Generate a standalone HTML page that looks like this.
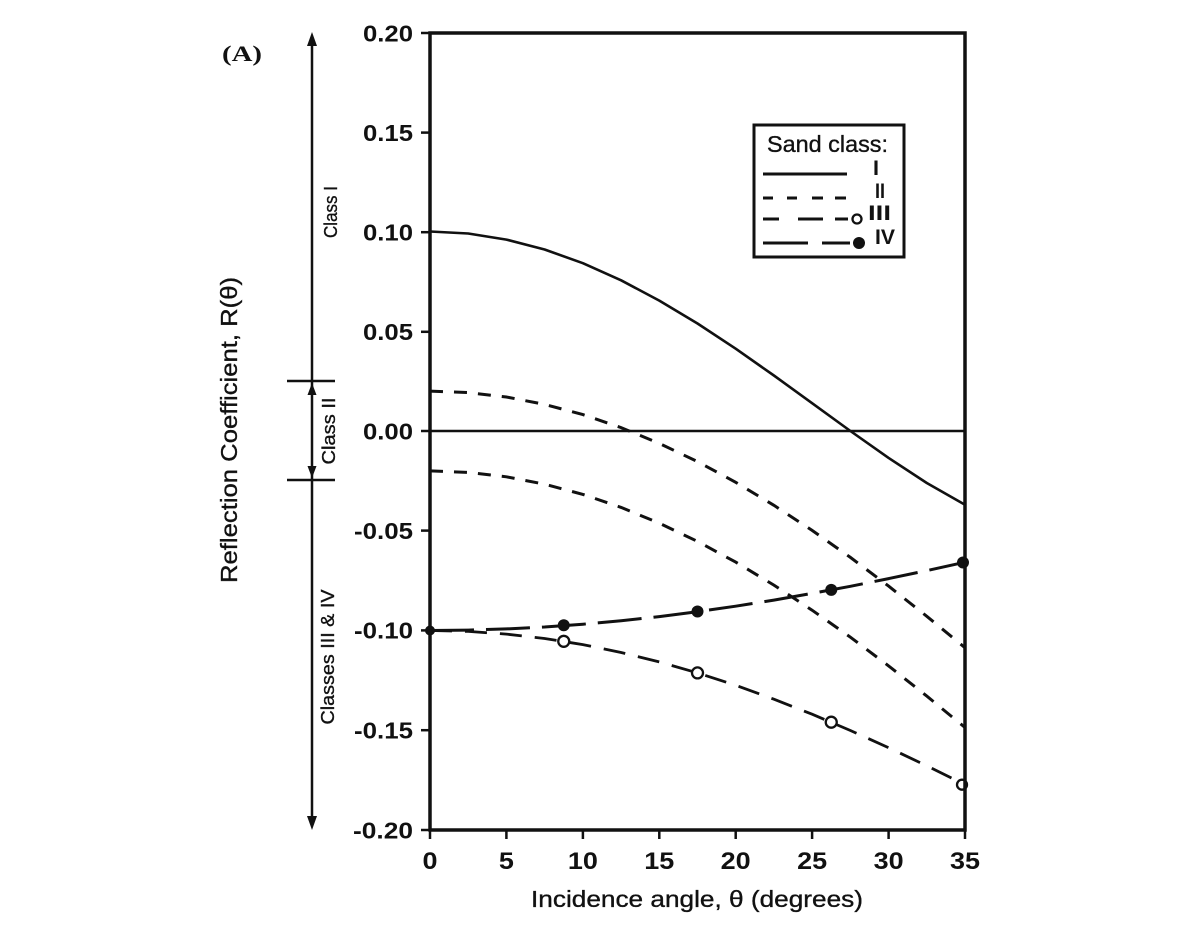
<!DOCTYPE html>
<html>
<head>
<meta charset="utf-8">
<style>
  html, body { margin: 0; padding: 0; background: #ffffff; }
  svg { display: block; }
  text { font-family: "Liberation Sans", Arial, sans-serif; fill: #111; }
  .reg { stroke: #111; stroke-width: 0.35; }
</style>
</head>
<body>
<svg width="1200" height="940" viewBox="0 0 1200 940" xmlns="http://www.w3.org/2000/svg">
  <rect x="0" y="0" width="1200" height="940" fill="#ffffff"/>

  <!-- (A) label -->
  <text x="222" y="61" font-weight="bold" font-size="22" textLength="40" lengthAdjust="spacingAndGlyphs" style="font-family:'Liberation Serif',serif">(A)</text>

  <!-- Class arrows -->
  <g stroke="#111" fill="#111">
    <line x1="312" y1="42" x2="312" y2="820" stroke-width="2.5"/>
    <polygon points="312,32 307,46 317,46" stroke="none"/>
    <polygon points="312,830 307,816 317,816" stroke="none"/>
    <line x1="287" y1="381" x2="335" y2="381" stroke-width="2.5"/>
    <line x1="287" y1="480" x2="335" y2="480" stroke-width="2.5"/>
    <polygon points="312,383 307.5,395 316.5,395" stroke="none"/>
    <polygon points="312,478 307.5,466 316.5,466" stroke="none"/>
  </g>
  <text class="reg" transform="translate(337,212) rotate(-90)" text-anchor="middle" font-size="18" textLength="52" lengthAdjust="spacingAndGlyphs">Class I</text>
  <text class="reg" transform="translate(335,431) rotate(-90)" text-anchor="middle" font-size="18" textLength="67" lengthAdjust="spacingAndGlyphs">Class II</text>
  <text class="reg" transform="translate(334,657) rotate(-90)" text-anchor="middle" font-size="18" textLength="135" lengthAdjust="spacingAndGlyphs">Classes III &amp; IV</text>

  <!-- Y axis title -->
  <text class="reg" transform="translate(237,430) rotate(-90)" text-anchor="middle" font-size="23" textLength="306" lengthAdjust="spacingAndGlyphs">Reflection Coefficient, R(θ)</text>

  <!-- Zero line -->
  <line x1="430" y1="431" x2="965" y2="431" stroke="#111" stroke-width="2.5"/>

  <!-- Class I -->
  <polyline fill="none" stroke="#111" stroke-width="2.6" stroke-linejoin="round"
    points="430,231.5 468.2,233.5 506.4,239.6 544.6,249.5 582.9,263.2 621.1,280.3 659.3,300.6 697.5,323.5 735.7,348.7 773.9,375.5 812.1,403.2 850.4,431.0 888.6,457.9 926.8,483.0 965,504.8"/>

  <!-- Class II upper -->
  <polyline fill="none" stroke="#111" stroke-width="3" stroke-dasharray="13 11"
    points="430,391.1 468.2,392.6 506.4,397.0 544.6,404.4 582.9,414.6 621.1,427.6 659.3,443.4 697.5,461.6 735.7,482.3 773.9,505.3 812.1,530.4 850.4,557.4 888.6,586.1 926.8,616.3 965,647.7"/>
  <!-- Class II lower -->
  <polyline fill="none" stroke="#111" stroke-width="3" stroke-dasharray="13 11"
    points="430,470.9 468.2,472.4 506.4,476.8 544.6,484.2 582.9,494.4 621.1,507.4 659.3,523.2 697.5,541.4 735.7,562.1 773.9,585.1 812.1,610.2 850.4,637.2 888.6,665.9 926.8,696.1 965,727.5"/>

  <!-- Class III -->
  <polyline fill="none" stroke="#111" stroke-width="2.8" stroke-dasharray="22 13"
    points="430,630.5 468.2,631.4 506.4,634.1 544.6,638.5 582.9,644.6 621.1,652.5 659.3,661.9 697.5,672.9 735.7,685.3 773.9,699.2 812.1,714.2 850.4,730.5 888.6,747.7 926.8,765.8 965,784.7"/>

  <!-- Class IV -->
  <polyline fill="none" stroke="#111" stroke-width="3" stroke-dasharray="44 12"
    points="430,630.5 468.2,630.1 506.4,628.9 544.6,627.0 582.9,624.2 621.1,620.8 659.3,616.6 697.5,611.7 735.7,606.2 773.9,600.1 812.1,593.4 850.4,586.3 888.6,578.6 926.8,570.6 965,562.2"/>

  <!-- Markers -->
  <g fill="#111">
    <circle cx="430" cy="630.5" r="5"/>
    <circle cx="563.75" cy="625.2" r="6"/>
    <circle cx="697.5" cy="611.5" r="6"/>
    <circle cx="831.25" cy="589.9" r="6"/>
    <circle cx="963" cy="562.5" r="6"/>
  </g>
  <g fill="#fff" stroke="#111" stroke-width="2.3">
    <circle cx="563.75" cy="641.3" r="5.5"/>
    <circle cx="697.5" cy="672.9" r="5.5"/>
    <circle cx="831.25" cy="722.2" r="5.5"/>
    <circle cx="962" cy="784.7" r="5"/>
  </g>

  <!-- Plot frame -->
  <rect x="430" y="33" width="535" height="797" fill="none" stroke="#111" stroke-width="3.5"/>

  <!-- Y ticks -->
  <g stroke="#111" stroke-width="2.5">
    <line x1="421" y1="33" x2="430" y2="33"/>
    <line x1="421" y1="132.6" x2="430" y2="132.6"/>
    <line x1="421" y1="232.2" x2="430" y2="232.2"/>
    <line x1="421" y1="331.8" x2="430" y2="331.8"/>
    <line x1="421" y1="431" x2="430" y2="431"/>
    <line x1="421" y1="530.6" x2="430" y2="530.6"/>
    <line x1="421" y1="630.4" x2="430" y2="630.4"/>
    <line x1="421" y1="730.2" x2="430" y2="730.2"/>
    <line x1="421" y1="830" x2="430" y2="830"/>
  </g>
  <g font-size="23" font-weight="bold" text-anchor="end">
    <text x="413" y="41.5" textLength="50" lengthAdjust="spacingAndGlyphs">0.20</text>
    <text x="413" y="141" textLength="50" lengthAdjust="spacingAndGlyphs">0.15</text>
    <text x="413" y="240.5" textLength="50" lengthAdjust="spacingAndGlyphs">0.10</text>
    <text x="413" y="340" textLength="50" lengthAdjust="spacingAndGlyphs">0.05</text>
    <text x="413" y="439.5" textLength="50" lengthAdjust="spacingAndGlyphs">0.00</text>
    <text x="413" y="539" textLength="59" lengthAdjust="spacingAndGlyphs">-0.05</text>
    <text x="413" y="638.5" textLength="59" lengthAdjust="spacingAndGlyphs">-0.10</text>
    <text x="413" y="738.5" textLength="59" lengthAdjust="spacingAndGlyphs">-0.15</text>
    <text x="413" y="838.5" textLength="60" lengthAdjust="spacingAndGlyphs">-0.20</text>
  </g>

  <!-- X ticks -->
  <g stroke="#111" stroke-width="2.5">
    <line x1="430" y1="830" x2="430" y2="839"/>
    <line x1="506.4" y1="830" x2="506.4" y2="839"/>
    <line x1="582.9" y1="830" x2="582.9" y2="839"/>
    <line x1="659.3" y1="830" x2="659.3" y2="839"/>
    <line x1="735.7" y1="830" x2="735.7" y2="839"/>
    <line x1="812.1" y1="830" x2="812.1" y2="839"/>
    <line x1="888.6" y1="830" x2="888.6" y2="839"/>
    <line x1="965" y1="830" x2="965" y2="839"/>
  </g>
  <g font-size="24" font-weight="bold" text-anchor="middle">
    <text x="430" y="869" textLength="15" lengthAdjust="spacingAndGlyphs">0</text>
    <text x="506.4" y="869" textLength="15" lengthAdjust="spacingAndGlyphs">5</text>
    <text x="582.9" y="869" textLength="30" lengthAdjust="spacingAndGlyphs">10</text>
    <text x="659.3" y="869" textLength="30" lengthAdjust="spacingAndGlyphs">15</text>
    <text x="735.7" y="869" textLength="30" lengthAdjust="spacingAndGlyphs">20</text>
    <text x="812.1" y="869" textLength="30" lengthAdjust="spacingAndGlyphs">25</text>
    <text x="888.6" y="869" textLength="30" lengthAdjust="spacingAndGlyphs">30</text>
    <text x="965" y="869" textLength="30" lengthAdjust="spacingAndGlyphs">35</text>
  </g>

  <!-- X axis title -->
  <text class="reg" x="697" y="907" text-anchor="middle" font-size="23" textLength="332" lengthAdjust="spacingAndGlyphs">Incidence angle, θ (degrees)</text>

  <!-- Legend -->
  <rect x="754" y="125" width="150" height="132" fill="#fff" stroke="#111" stroke-width="3"/>
  <text class="reg" x="767" y="152" font-size="23" textLength="121" lengthAdjust="spacingAndGlyphs">Sand class:</text>
  <g stroke="#111" stroke-width="3">
    <line x1="763" y1="174" x2="847" y2="174"/>
    <line x1="763" y1="198" x2="773" y2="198"/>
    <line x1="787" y1="198" x2="797" y2="198"/>
    <line x1="812" y1="198" x2="823" y2="198"/>
    <line x1="835" y1="198" x2="846" y2="198"/>
    <line x1="763" y1="219" x2="779" y2="219"/>
    <line x1="798" y1="219" x2="823" y2="219"/>
    <line x1="835" y1="219" x2="848" y2="219"/>
    <line x1="763" y1="243" x2="808" y2="243"/>
    <line x1="822" y1="243" x2="850" y2="243"/>
  </g>
  <circle cx="857" cy="219" r="4.5" fill="#fff" stroke="#111" stroke-width="2.3"/>
  <circle cx="859" cy="243" r="6" fill="#111"/>
  <g font-size="21" font-weight="bold">
    <text x="873" y="175" textLength="6" lengthAdjust="spacingAndGlyphs">I</text>
    <text x="875" y="198" textLength="10" lengthAdjust="spacingAndGlyphs">II</text>
    <text x="868" y="220" textLength="23" lengthAdjust="spacingAndGlyphs">III</text>
    <text x="875" y="244" textLength="20" lengthAdjust="spacingAndGlyphs">IV</text>
  </g>
</svg>
</body>
</html>
